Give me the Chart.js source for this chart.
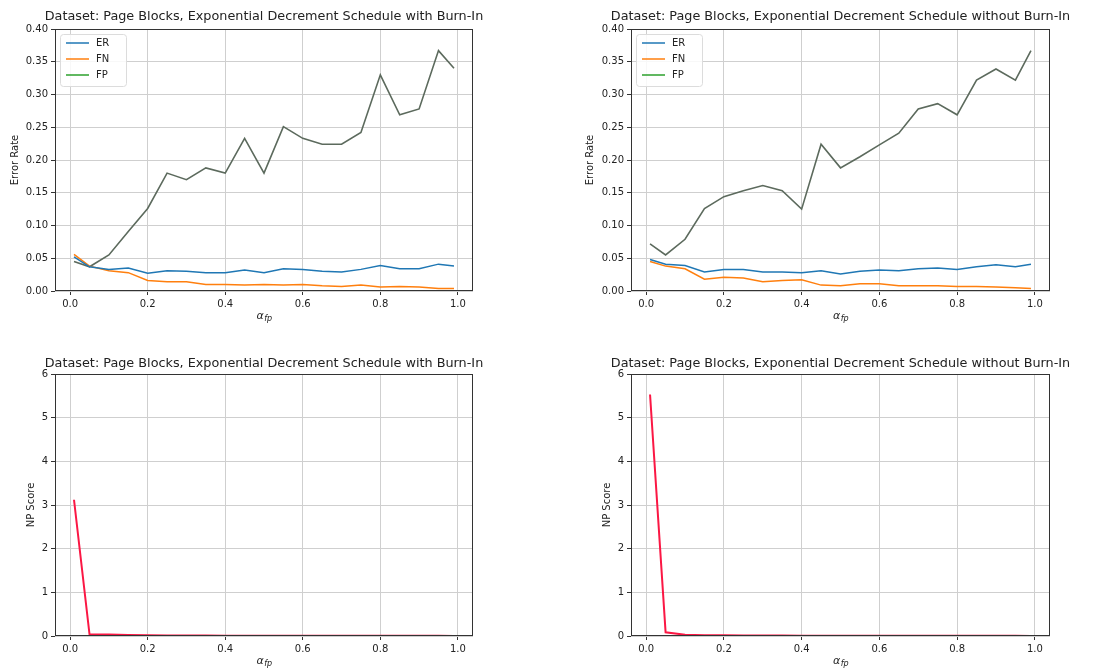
<!DOCTYPE html>
<html><head><meta charset="utf-8">
<script src="https://cdn.jsdelivr.net/npm/chart.js@4.4.1/dist/chart.umd.min.js"></script>
<style>
html,body{margin:0;padding:0;background:#fff;}
body{width:1111px;height:671px;position:relative;overflow:hidden;}
canvas{position:absolute;display:block;}
</style></head><body>
<canvas id="c0" width="555" height="330" style="left:0;top:0"></canvas>
<canvas id="c1" width="556" height="330" style="left:555px;top:0"></canvas>
<canvas id="c2" width="555" height="341" style="left:0;top:330px"></canvas>
<canvas id="c3" width="556" height="341" style="left:555px;top:330px"></canvas>
<script>
// ---- data ----
const alphaFp = [0.01,0.05,0.10,0.15,0.20,0.25,0.30,0.35,0.40,0.45,0.50,0.55,0.60,0.65,0.70,0.75,0.80,0.85,0.90,0.95,0.99];
const xTicks = [0.0,0.2,0.4,0.6,0.8,1.0];
const errTicks = [0.00,0.05,0.10,0.15,0.20,0.25,0.30,0.35,0.40];
const npTicks = [0,1,2,3,4,5,6];
const seriesNames = ['ER','FN','FP'];

const erBurn = [0.052,0.037,0.033,0.035,0.027,0.031,0.030,0.028,0.028,0.032,0.028,0.034,0.033,0.030,0.029,0.033,0.039,0.034,0.034,0.041,0.038];
const fnBurn = [0.056,0.038,0.031,0.028,0.016,0.014,0.014,0.010,0.010,0.009,0.010,0.009,0.010,0.008,0.007,0.009,0.006,0.007,0.006,0.004,0.004];
const fpBurn = [0.045,0.037,0.055,0.091,0.126,0.180,0.170,0.188,0.180,0.233,0.180,0.251,0.233,0.224,0.224,0.242,0.330,0.269,0.278,0.367,0.340];

const erNoBurn = [0.048,0.041,0.039,0.029,0.033,0.033,0.029,0.029,0.028,0.031,0.026,0.030,0.032,0.031,0.034,0.035,0.033,0.037,0.040,0.037,0.041];
const fnNoBurn = [0.045,0.038,0.034,0.018,0.021,0.020,0.014,0.016,0.017,0.009,0.008,0.011,0.011,0.008,0.008,0.008,0.007,0.007,0.006,0.005,0.004];
const fpNoBurn = [0.072,0.055,0.079,0.126,0.144,0.153,0.161,0.153,0.125,0.224,0.188,0.205,0.223,0.241,0.278,0.286,0.269,0.322,0.339,0.322,0.367];

const npBurn   = [3.12,0.040,0.035,0.025,0.015,0.012,0.010,0.009,0.008,0.007,0.006,0.006,0.005,0.005,0.004,0.004,0.004,0.003,0.003,0.003,0.002];
const npNoBurn = [5.53,0.085,0.030,0.020,0.015,0.012,0.010,0.009,0.008,0.007,0.007,0.006,0.005,0.005,0.004,0.004,0.004,0.003,0.003,0.003,0.002];

const titleBurn = 'Dataset: Page Blocks, Exponential Decrement Schedule with Burn-In';
const titleNoBurn = 'Dataset: Page Blocks, Exponential Decrement Schedule without Burn-In';

// ---- helpers ----
const FONT = '"DejaVu Sans", "Liberation Sans", sans-serif';
const TXT = '#222';
const pts = (ys) => alphaFp.map((x,i)=>({x:x, y:ys[i]}));

const decor = {
  id:'decor',
  afterDraw(chart, args, o){
    const ctx = chart.ctx, ca = chart.chartArea;
    ctx.save();
    // frame
    ctx.strokeStyle = '#333'; ctx.lineWidth = 1;
    ctx.strokeRect(Math.round(ca.left)+0.5, Math.round(ca.top)+0.5, Math.round(ca.right-ca.left)-1, Math.round(ca.bottom-ca.top)-1);
    // title
    ctx.fillStyle = TXT; ctx.textAlign='center'; ctx.textBaseline='middle';
    ctx.font = '12.8px ' + FONT;
    ctx.fillText(o.title, (ca.left+ca.right)/2, o.titleY);
    // x label alpha_fp
    const cx = (ca.left+ca.right)/2;
    ctx.font = 'italic 11px ' + FONT;
    const wA = ctx.measureText('α').width;
    ctx.font = 'italic 8px ' + FONT;
    const wS = ctx.measureText('fp').width;
    const x0 = cx - (wA+wS)/2;
    ctx.textAlign='left';
    ctx.font = 'italic 11px ' + FONT;
    ctx.fillText('α', x0, o.xlabY);
    ctx.font = 'italic 8px ' + FONT;
    ctx.fillText('fp', x0+wA+0.5, o.xlabY+3);
    // legend
    if (o.legend){
      const lx = ca.left+5, ly = ca.top+5;
      ctx.fillStyle='rgba(255,255,255,0.85)';
      ctx.strokeStyle='#dcdcdc';
      ctx.beginPath();
      ctx.roundRect(lx+0.5, ly+0.5, 66, 52, 3);
      ctx.fill(); ctx.stroke();
      chart.data.datasets.forEach((ds,i)=>{
        const y = ca.top + 14 + i*16;
        ctx.strokeStyle = ds.legendColor || ds.borderColor; ctx.lineWidth=1.5;
        ctx.beginPath(); ctx.moveTo(ca.left+11, y); ctx.lineTo(ca.left+34, y); ctx.stroke();
        ctx.fillStyle = TXT; ctx.font='10px '+FONT; ctx.textBaseline='middle';
        ctx.fillText(ds.label, ca.left+41, y);
      });
    }
    ctx.restore();
  }
};

function makeChart(id, c){
  new Chart(document.getElementById(id), {
    type:'line',
    data:{ datasets: c.datasets },
    options:{
      responsive:false, animation:false,
      layout:{ padding:{ left:0, top:c.padTop, right:c.padRight, bottom:0 } },
      plugins:{ legend:{display:false}, tooltip:{enabled:false}, title:{display:false},
        decor:{ title:c.title, titleY:c.titleY, xlabY:c.xlabY, legend:c.legend } },
      elements:{ point:{radius:0}, line:{tension:0} },
      scales:{
        x:{ type:'linear', min:-0.039, max:1.039,
          afterBuildTicks:(s)=>{ s.ticks = xTicks.map(v=>({value:v})); },
          afterFit:(s)=>{ s.height = c.xHeight; },
          grid:{ color:'#cfcfcf', lineWidth:1, tickColor:'#333', tickLength:4 },
          border:{ display:false },
          ticks:{ color:TXT, font:{family:FONT,size:10}, padding:3, maxRotation:0,
                  callback:(v)=>Number(v).toFixed(1) } },
        y:{ type:'linear', min:c.yMin, max:c.yMax,
          afterBuildTicks:(s)=>{ s.ticks = c.yTicks.map(v=>({value:v})); },
          afterFit:(s)=>{ s.width = c.yWidth; },
          grid:{ color:'#cfcfcf', lineWidth:1, tickColor:'#333', tickLength:4 },
          border:{ display:false },
          ticks:{ color:TXT, font:{family:FONT,size:10}, padding:3,
                  callback:(v)=>Number(v).toFixed(c.yDec) },
          title:{ display:true, text:c.yLabel, color:TXT, font:{family:FONT,size:10}, padding:{top:c.yTitlePad,bottom:0} } }
      }
    },
    plugins:[decor]
  });
}

const erColor = '#1f77b4', fnColor = '#ff7f0e', fpColor = '#5c6a5d', fpLegend = '#2ca02c', npColor = '#fb1744';
function errSets(er, fn, fp){
  return [
    {label:seriesNames[0], data:pts(er), borderColor:erColor, borderWidth:1.5, fill:false},
    {label:seriesNames[1], data:pts(fn), borderColor:fnColor, borderWidth:1.5, fill:false},
    {label:seriesNames[2], data:pts(fp), borderColor:fpColor, legendColor:fpLegend, borderWidth:1.6, fill:false}
  ];
}

makeChart('c0', { datasets: errSets(erBurn, fnBurn, fpBurn), title:titleBurn, titleY:17, xlabY:316,
  padTop:29, padRight:82, xHeight:39, yWidth:55, yTitlePad:9,
  yMin:0, yMax:0.4, yTicks:errTicks, yDec:2, yLabel:'Error Rate', legend:true });
makeChart('c1', { datasets: errSets(erNoBurn, fnNoBurn, fpNoBurn), title:titleNoBurn, titleY:17, xlabY:316,
  padTop:29, padRight:61, xHeight:39, yWidth:76, yTitlePad:29,
  yMin:0, yMax:0.4, yTicks:errTicks, yDec:2, yLabel:'Error Rate', legend:true });
makeChart('c2', { datasets:[{label:'NP', data:pts(npBurn), borderColor:npColor, borderWidth:2, fill:false}],
  title:titleBurn, titleY:34, xlabY:331,
  padTop:44, padRight:82, xHeight:35, yWidth:55, yTitlePad:25,
  yMin:0, yMax:6, yTicks:npTicks, yDec:0, yLabel:'NP Score', legend:false });
makeChart('c3', { datasets:[{label:'NP', data:pts(npNoBurn), borderColor:npColor, borderWidth:2, fill:false}],
  title:titleNoBurn, titleY:34, xlabY:331,
  padTop:44, padRight:61, xHeight:35, yWidth:76, yTitlePad:46,
  yMin:0, yMax:6, yTicks:npTicks, yDec:0, yLabel:'NP Score', legend:false });
</script>
</body></html>
